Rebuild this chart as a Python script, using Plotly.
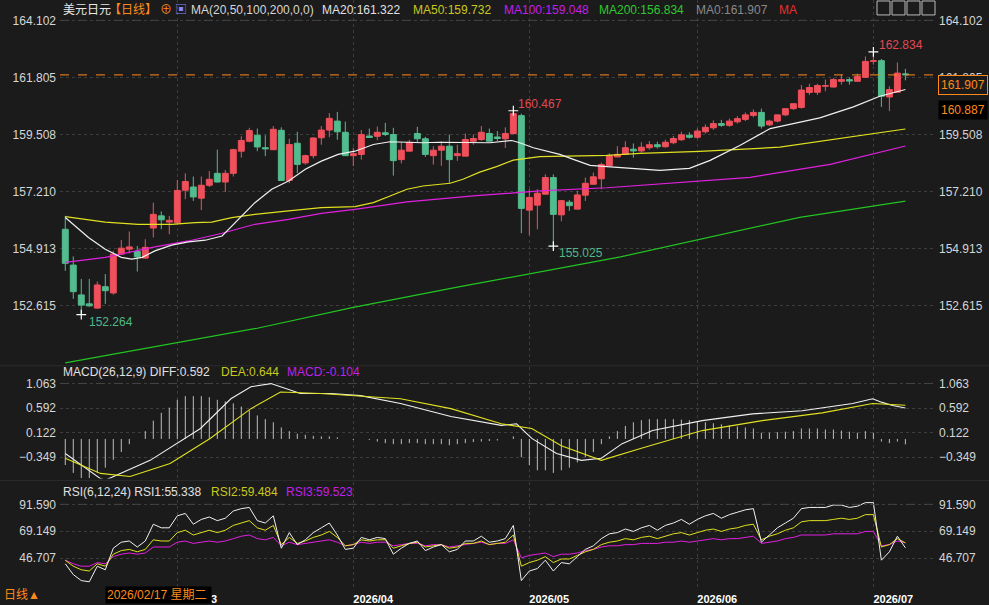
import plotly.graph_objects as go

# ---------------- data ----------------
idx = list(range(1, 107))
opens = [155.70,154.26,153.06,152.70,152.53,153.39,153.14,154.70,154.90,154.81,
         154.54,155.75,156.24,155.99,155.96,157.27,157.40,156.95,157.47,157.95,
         157.60,157.95,158.84,159.24,159.48,158.98,158.90,159.68,157.66,159.16,
         158.37,158.66,159.38,159.69,160.05,159.60,158.66,158.71,159.45,159.44,
         159.58,159.51,158.50,158.84,159.55,159.34,158.66,158.88,159.04,158.66,
         158.64,159.24,159.31,159.55,159.41,159.34,159.55,160.27,156.47,156.67,
         157.11,157.78,156.28,156.79,156.51,157.07,157.51,157.73,158.26,158.61,
         158.71,158.92,158.85,158.98,159.10,159.02,159.18,159.30,159.48,159.40,
         159.62,159.78,159.95,159.88,160.02,160.12,160.28,160.40,159.90,160.05,
         160.30,160.55,160.60,161.20,161.21,161.45,161.42,161.65,161.72,161.65,
         161.81,162.45,162.48,161.02,161.21,161.95]
highs = [156.24,154.61,153.70,153.70,153.60,153.90,154.83,155.27,155.61,155.03,
         155.30,156.77,156.42,156.24,157.68,157.95,157.82,157.82,158.04,158.90,
         158.08,158.94,159.44,159.78,159.75,159.48,159.85,159.80,159.34,159.62,
         158.70,159.40,159.85,160.37,160.42,160.03,158.98,159.69,159.75,159.83,
         159.98,159.78,159.20,159.30,159.82,159.42,159.04,159.24,159.51,159.10,
         159.55,159.51,159.85,159.75,159.65,159.80,160.467,160.35,157.31,157.31,
         157.91,157.91,156.85,156.88,157.24,157.78,157.98,158.38,158.75,159.04,
         159.24,159.15,159.20,159.25,159.22,159.30,159.45,159.62,159.60,159.75,
         159.92,160.08,160.10,160.15,160.25,160.40,160.52,160.55,160.10,160.30,
         160.45,160.70,161.50,161.55,161.55,161.72,161.78,161.92,161.81,161.96,
         162.65,162.834,162.55,161.45,162.41,162.15]
lows = [154.03,152.90,152.264,152.58,152.50,152.70,153.07,154.68,154.73,154.00,
        154.52,155.37,155.70,155.50,155.90,156.91,156.84,156.47,157.40,157.58,
        157.20,157.82,158.58,159.20,158.84,158.64,158.88,157.64,157.55,157.96,
        158.30,158.55,159.10,159.40,159.30,158.66,158.24,158.50,159.39,159.28,
        159.45,157.86,158.35,158.84,159.20,158.61,158.30,158.25,157.55,158.45,
        158.64,159.10,159.25,159.24,159.25,158.97,159.50,155.54,155.46,155.70,
        157.11,155.025,156.02,156.44,156.51,156.84,157.51,157.31,158.26,158.61,
        158.71,158.58,158.78,158.90,158.95,158.98,159.12,159.25,159.35,159.35,
        159.55,159.70,159.82,159.82,159.95,160.05,160.20,159.75,159.85,160.00,
        160.25,160.50,160.55,161.10,161.10,161.25,161.40,161.52,161.52,161.65,
        161.81,162.32,160.62,160.45,161.21,161.69]
closes = [154.33,153.19,152.65,152.62,153.46,153.23,154.70,154.94,154.99,154.59,
          154.97,156.30,156.08,156.06,157.26,157.62,157.00,157.47,157.71,157.60,
          157.95,158.90,159.27,159.67,159.01,158.93,159.72,157.66,159.11,158.31,
          158.66,159.37,159.69,160.16,159.62,158.66,158.74,159.51,159.39,159.60,
          159.51,158.46,158.88,159.20,159.34,158.71,158.88,159.04,158.50,158.74,
          159.31,159.35,159.60,159.24,159.35,159.55,160.35,156.54,156.98,157.15,
          157.78,156.30,156.85,156.65,157.08,157.55,157.81,158.30,158.66,158.71,
          158.98,158.85,159.00,159.10,159.02,159.20,159.35,159.50,159.40,159.65,
          159.80,159.95,159.88,160.05,160.15,160.30,160.40,159.85,160.05,160.30,
          160.55,160.75,161.30,161.40,161.48,161.48,161.72,161.72,161.66,161.85,
          162.45,162.48,161.05,161.32,161.98,161.907]

# moving averages (candle position, value)
ma20_x = [1,3.9,6,8,9.3,10.6,12.2,14.3,16.4,18.5,20.6,21.8,23,24.7,26.8,28.9,31,33,35.1,37.2,
          39.5,41.6,43.7,45.7,47.8,52,54.1,56.8,57.8,59.5,61.2,62.8,64.5,66.6,68.7,70.7,72.8,
          75.3,79,81.6,85.3,89.1,95.3,99.5,102.8,106]
ma20_y = [156.17,155.37,154.90,154.57,154.50,154.57,154.83,155.06,155.19,155.26,155.43,155.83,
          156.24,156.77,157.31,157.64,158.11,158.44,158.71,158.84,159.11,159.22,159.20,159.18,
          159.20,159.20,159.18,159.27,159.18,158.98,158.84,158.71,158.51,158.27,158.22,158.18,
          158.11,158.07,158.15,158.47,159.07,159.75,160.18,160.62,161.05,161.322]
ma50_x = [1,6,10.1,14.3,17.2,19.3,21.8,24.7,28.9,33,37.2,39.5,41.6,43.7,45.7,49.1,50.7,52.8,
          54.9,57,60.3,62.8,68.7,72.8,80.3,90.3,96.6,106]
ma50_y = [156.21,155.99,155.90,155.90,155.97,155.99,156.17,156.30,156.44,156.57,156.61,156.77,
          157.04,157.31,157.44,157.55,157.71,158.00,158.22,158.48,158.62,158.64,158.67,158.75,
          158.83,159.00,159.30,159.732]
ma100_x = [1,6,12.2,16.4,20.6,24.7,28.9,33,37.2,43.7,52,60.3,68.7,72.8,86.6,96.6,106]
ma100_y = [154.37,154.57,154.99,155.23,155.54,155.90,156.10,156.34,156.50,156.80,157.04,157.24,
           157.37,157.47,157.79,158.31,159.048]
ma200_x = [1,25,37,50,70.4,92.8,106]
ma200_y = [150.33,151.72,152.56,153.37,154.59,156.18,156.834]

# MACD
diff_x = [1,5.4,6,11.6,17.9,21.7,24.2,26.7,30.4,34.2,37.9,42.9,49.2,55.5,57.4,59.3,62.4,65.5,
          68,70.6,74.4,80.6,86.9,93.1,99.4,101.9,103.1,104.4,106]
diff_y = [-0.28,-0.76,-0.79,-0.41,0.20,0.77,1.00,1.06,0.87,0.87,0.83,0.68,0.43,0.26,0.29,0.01,
          -0.28,-0.41,-0.37,-0.09,0.16,0.35,0.48,0.54,0.68,0.77,0.70,0.64,0.592]
dea_x = [1,5.4,9.1,14.1,19.1,24.2,27.9,32.9,42.9,49.2,55.5,59.3,63,68,73,80.6,88.1,95.6,101.9,106]
dea_y = [-0.37,-0.66,-0.72,-0.47,0.01,0.58,0.90,0.87,0.77,0.58,0.29,0.20,-0.13,-0.41,-0.18,
         0.16,0.35,0.50,0.68,0.644]
macd_hist = [-0.50,-0.65,-0.75,-0.75,-0.65,-0.55,-0.40,-0.25,-0.10,0.00,
             0.15,0.35,0.50,0.60,0.75,0.82,0.82,0.82,0.80,0.75,
             0.72,0.68,0.62,0.55,0.45,0.38,0.32,0.22,0.15,0.10,
             0.08,0.06,0.05,0.05,0.03,0.00,-0.02,0.00,-0.02,-0.05,
             -0.08,-0.10,-0.10,-0.08,-0.08,-0.10,-0.10,-0.10,-0.12,-0.10,
             -0.08,-0.06,-0.05,-0.04,-0.03,0.00,0.05,-0.35,-0.50,-0.60,
             -0.60,-0.65,-0.60,-0.55,-0.45,-0.35,-0.25,-0.10,0.05,0.15,
             0.25,0.32,0.36,0.38,0.38,0.38,0.38,0.37,0.36,0.34,
             0.32,0.30,0.28,0.26,0.24,0.22,0.20,0.12,0.12,0.13,
             0.14,0.15,0.20,0.20,0.20,0.18,0.18,0.16,0.14,0.12,
             0.15,0.12,-0.05,-0.08,-0.05,-0.104]

# RSI
rsi1 = [42,33,28,27,40,37,55,60,61,56,61,75,72,72,82,84,75,79,81,78,
        80,86,88,89,78,76,82,55,68,58,62,68,72,76,66,54,55,64,62,64,
        63,50,55,59,61,53,56,58,52,54,61,61,65,60,61,63,74,28,36,38,
        45,36,43,42,48,54,57,63,67,68,71,69,72,74,70,74,76,79,75,79,
        82,84,80,83,85,87,88,60,66,72,76,80,88,89,89,89,91,91,89,90,
        93,93,45,52,65,55.338]
rsi2 = [45,40,37,36,42,40,50,53,54,52,54,62,61,61,68,70,66,68,70,68,
        70,74,76,78,72,70,74,58,64,59,61,64,66,69,64,57,58,62,61,62,
        62,55,57,59,60,56,57,58,55,56,59,59,61,58,59,60,66,40,43,45,
        48,43,46,46,49,52,54,58,60,61,63,62,64,65,63,65,67,68,66,68,
        70,71,69,71,72,74,75,62,65,67,70,72,77,78,78,78,79,80,79,80,
        83,83,56,58,63,59.484]
rsi3 = [45,42,40,40,43,42,48,50,51,50,51,56,56,56,60,61,59,60,61,60,
        61,63,65,66,63,62,64,57,60,58,59,60,61,62,60,57,58,60,59,60,
        60,57,58,59,59,57,58,58,56,57,58,59,60,58,59,59,62,47,49,50,
        51,48,50,50,51,53,54,56,57,57,58,58,59,59,59,60,60,61,60,61,
        62,63,62,63,63,64,65,59,60,61,63,64,66,66,66,66,67,67,67,67,
        69,69,57,58,61,59.523]

price_ticks = [164.102, 161.805, 159.508, 157.210, 154.913, 152.615]
macd_ticks = [1.063, 0.592, 0.122, -0.349]
rsi_ticks = [91.590, 69.149, 46.707]
month_pos = [15, 37, 59, 80, 102]
month_labels = ["2026/03", "2026/04", "2026/05", "2026/06", "2026/07"]

# ---------------- style ----------------
W, H = 989, 605
BG = "#1b1b1b"
RED = "#f0505c"
GREEN = "#52bc8e"
GRID = "#3d3d3d"
TXT = "#d6d6d6"
FONT = "Liberation Sans, Arial, Noto Sans CJK SC, sans-serif"

def px(x):
    return x / W

def py(y):
    return 1 - y / H

XDOM = [px(60), px(935)]
XR = [0.34, 109.7]
PR = [150.25, 164.92]
MR = [-0.756, 1.382]
RR = [21.77, 109.88]

fig = go.Figure()

# candles: wicks + bodies
up = [c >= o for o, c in zip(opens, closes)]
for flag, col in [(True, RED), (False, GREEN)]:
    wx, wy = [], []
    for i, h, l, u in zip(idx, highs, lows, up):
        if u == flag:
            wx += [i, i, None]
            wy += [l, h, None]
    fig.add_trace(go.Scatter(x=wx, y=wy, mode="lines", line=dict(color=col, width=1),
                             xaxis="x", yaxis="y", hoverinfo="skip"))
body_base = [min(o, c) for o, c in zip(opens, closes)]
body_len = [abs(c - o) for o, c in zip(opens, closes)]
body_col = [RED if u else GREEN for u in up]
fig.add_trace(go.Bar(x=idx, y=body_len, base=body_base, width=0.74,
                     marker=dict(color=body_col, line=dict(color=body_col, width=1)),
                     xaxis="x", yaxis="y", hoverinfo="skip"))

for xs, ys, c in [(ma200_x, ma200_y, "#22c422"), (ma100_x, ma100_y, "#e020e0"),
                  (ma50_x, ma50_y, "#e0e020"), (ma20_x, ma20_y, "#f0f0f0")]:
    fig.add_trace(go.Scatter(x=xs, y=ys, mode="lines", line=dict(color=c, width=1.2),
                             xaxis="x", yaxis="y", hoverinfo="skip"))

# extreme markers
fig.add_trace(go.Scatter(x=[3, 57, 62, 102], y=[lows[2], highs[56], lows[61], highs[101]],
                         mode="markers", marker=dict(symbol="cross-thin", size=7,
                         line=dict(color="#ffffff", width=1.2)),
                         xaxis="x", yaxis="y", hoverinfo="skip"))

# MACD histogram as thin lines
hx, hy = [], []
for i, v in zip(idx, macd_hist):
    hx += [i, i, None]
    hy += [0, v, None]
fig.add_trace(go.Scatter(x=hx, y=hy, mode="lines", line=dict(color="#bdbdbd", width=1),
                         xaxis="x2", yaxis="y2", hoverinfo="skip"))
fig.add_trace(go.Scatter(x=diff_x, y=diff_y, mode="lines", line=dict(color="#f0f0f0", width=1.1),
                         xaxis="x2", yaxis="y2", hoverinfo="skip"))
fig.add_trace(go.Scatter(x=dea_x, y=dea_y, mode="lines", line=dict(color="#e0e020", width=1.1),
                         xaxis="x2", yaxis="y2", hoverinfo="skip"))

for ys, c in [(rsi3, "#e020e0"), (rsi2, "#e0e020"), (rsi1, "#f0f0f0")]:
    fig.add_trace(go.Scatter(x=idx, y=ys, mode="lines", line=dict(color=c, width=1),
                             xaxis="x3", yaxis="y3", hoverinfo="skip"))

# invisible traces for mirrored right-side axes
for xa, ya, yv in [("x", "y4", price_ticks), ("x2", "y5", macd_ticks), ("x3", "y6", rsi_ticks)]:
    fig.add_trace(go.Scatter(x=[idx[0]] * len(yv), y=yv, mode="markers",
                             marker=dict(opacity=0), xaxis=xa, yaxis=ya, hoverinfo="skip"))

def yax(dom, rng, ticks, fmt, anchor, side="left", overlay=None):
    d = dict(domain=dom, range=rng, tickvals=ticks, tickformat=fmt, side=side, anchor=anchor,
             showgrid=True, gridcolor=GRID, griddash="dot", gridwidth=1,
             zeroline=False, showline=False, ticks="", fixedrange=True,
             tickfont=dict(color=TXT, size=12, family=FONT), ticklabelstandoff=3)
    if overlay:
        d.update(overlaying=overlay, showgrid=False)
    return d

def xax(anchor, show_labels=False):
    return dict(domain=XDOM, range=XR, anchor=anchor, tickvals=month_pos,
                ticktext=month_labels, showticklabels=show_labels,
                showgrid=True, gridcolor=GRID, griddash="dot", gridwidth=1,
                zeroline=False, showline=False, ticks="",
                tickfont=dict(color="#ffffff", size=11, family=FONT, weight="bold"),
                ticklabelposition="outside right", ticklabelstandoff=3)

P_DOM = [py(366), py(0)]
M_DOM = [py(480), py(368)]
R_DOM = [py(590), py(484)]

fig.update_layout(
    width=W, height=H, margin=dict(l=0, r=0, t=0, b=0),
    paper_bgcolor=BG, plot_bgcolor=BG, showlegend=False, barmode="overlay",
    font=dict(family=FONT, color=TXT),
    xaxis=xax("y"), xaxis2=dict(xax("y2"), matches="x"), xaxis3=dict(xax("y3", True), matches="x"),
    yaxis=yax(P_DOM, PR, price_ticks, ".3f", "x"),
    yaxis2=yax(M_DOM, MR, macd_ticks, ".3f", "x2"),
    yaxis3=yax(R_DOM, RR, rsi_ticks, ".3f", "x3"),
    yaxis4=yax(P_DOM, PR, price_ticks, ".3f", "x", "right", "y"),
    yaxis5=yax(M_DOM, MR, macd_ticks, ".3f", "x2", "right", "y2"),
    yaxis6=yax(R_DOM, RR, rsi_ticks, ".3f", "x3", "right", "y3"),
)

shapes = []
# dashed top grid lines
for yref, val in [("y", price_ticks[0]), ("y2", macd_ticks[0]), ("y3", rsi_ticks[0])]:
    shapes.append(dict(type="line", xref="paper", yref=yref, x0=XDOM[0], x1=XDOM[1], y0=val, y1=val,
                       line=dict(color="#444444", width=1, dash="dash")))
# last price dashed orange line
shapes.append(dict(type="line", xref="paper", yref="y", x0=XDOM[0], x1=XDOM[1],
                   y0=closes[-1], y1=closes[-1], line=dict(color="#ff8a1c", width=1, dash="dash")))
# panel separators
for yy in [367, 482]:
    shapes.append(dict(type="line", xref="paper", yref="paper", x0=0, x1=1, y0=py(yy), y1=py(yy),
                       line=dict(color="#2c2c2c", width=1)))
# toolbar icons top right
for k in range(4):
    x0 = 877 + k * 15
    shapes.append(dict(type="rect", xref="paper", yref="paper", x0=px(x0), x1=px(x0 + 13),
                       y0=py(15), y1=py(1), line=dict(color="#bbbbbb", width=1)))
fig.update_layout(shapes=shapes)

ann = []
def text(x, y, s, color, size=12, xanchor="left", **kw):
    ann.append(dict(x=px(x), y=py(y), xref="paper", yref="paper", text=s, showarrow=False,
                    xanchor=xanchor, yanchor="middle", font=dict(color=color, size=size, family=FONT), **kw))

# top legend
text(61, 10, "美元日元", "#e8e8e8", 12)
text(107, 10, "【日线】", "#ff8a1c", 12)
text(158, 10, "⊕", "#ff8a1c", 12)
text(173, 10, "▣", "#8888ff", 12)
text(189, 10, "MA(20,50,100,200,0,0)", TXT, 12)
text(320, 10, "MA20:161.322", "#e0e0e0", 12)
text(411, 10, "MA50:159.732", "#c8c81e", 12)
text(502, 10, "MA100:159.048", "#c020e8", 12)
text(597, 10, "MA200:156.834", "#2ec82e", 12)
text(694, 10, "MA0:161.907", "#8a8a8a", 12)
text(777, 10, "MA", "#e83030", 12)

# MACD legend
text(61, 373, "MACD(26,12,9) DIFF:0.592", "#e0e0e0", 12)
text(219, 373, "DEA:0.644", "#c8c81e", 12)
text(285, 373, "MACD:-0.104", "#c020e8", 12)

# RSI legend
text(61, 494, "RSI(6,12,24) RSI1:55.338", "#e0e0e0", 12)
text(209, 494, "RSI2:59.484", "#c8c81e", 12)
text(284, 494, "RSI3:59.523", "#c020e8", 12)

# extreme labels
text(877, 45, "162.834", "#e04a55", 12)
text(516, 104, "160.467", "#e04a55", 12)
text(557, 254, "155.025", "#4fb98a", 12)
text(87, 323, "152.264", "#4fb98a", 12)

# right price boxes
text(938, 85, "161.907", "#ff8a1c", 12, bordercolor="#ff8a1c", borderwidth=1, bgcolor=BG, borderpad=2)
text(938, 110, "160.887", "#ff8a1c", 12, bgcolor="#000000", borderpad=2)

# bottom labels
text(2, 597, "日线▲", "#ff8a1c", 12)
text(105, 597, "2026/02/17 星期二", "#ff8a1c", 12, bgcolor="#000000", borderpad=1,
     width=103, align="left")

fig.update_layout(annotations=ann)
fig.write_html("out.html")
